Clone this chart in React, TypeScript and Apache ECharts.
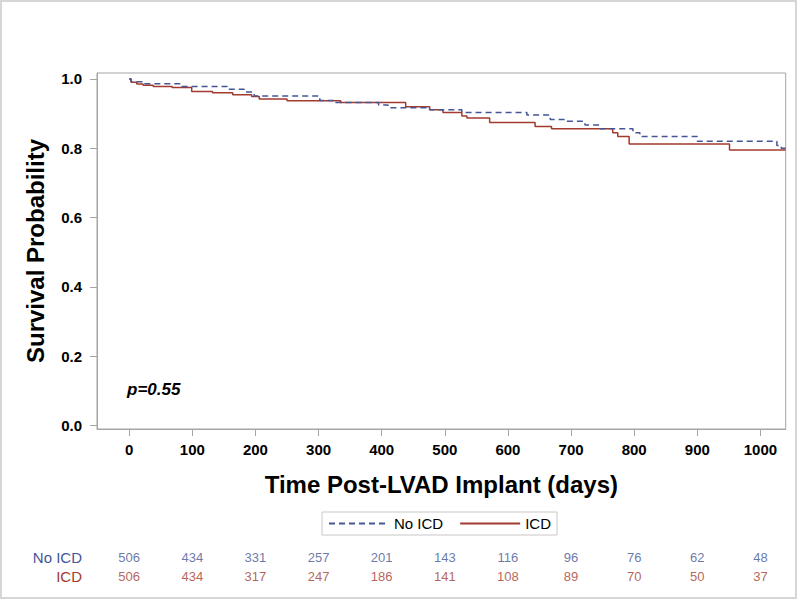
import React, { useEffect, useRef } from "react";
import * as echarts from "echarts";

const noIcdCurve: [number, number][] = [
  [0, 1.0], [3, 0.992], [25, 0.986], [80, 0.978], [155, 0.97], [182, 0.962],
  [198, 0.951], [302, 0.938], [327, 0.932], [395, 0.925], [410, 0.917],
  [476, 0.911], [527, 0.903], [630, 0.896], [667, 0.883], [690, 0.878],
  [722, 0.867], [746, 0.856], [798, 0.845], [809, 0.834], [900, 0.82],
  [1026, 0.808], [1033, 0.8], [1040, 0.798],
];
const icdCurve: [number, number][] = [
  [0, 1.0], [3, 0.99], [12, 0.985], [22, 0.982], [38, 0.978], [68, 0.975],
  [99, 0.964], [132, 0.96], [164, 0.954], [194, 0.949], [206, 0.942],
  [250, 0.937], [335, 0.932], [438, 0.92], [476, 0.911], [497, 0.903],
  [527, 0.893], [535, 0.887], [571, 0.874], [643, 0.863], [669, 0.856],
  [766, 0.845], [774, 0.834], [792, 0.812], [951, 0.795], [1040, 0.795],
];
const riskTimes = [0, 100, 200, 300, 400, 500, 600, 700, 800, 900, 1000];
const riskNoIcd = [506, 434, 331, 257, 201, 143, 116, 96, 76, 62, 48];
const riskIcd = [506, 434, 317, 247, 186, 141, 108, 89, 70, 50, 37];
const xTicks = [0, 100, 200, 300, 400, 500, 600, 700, 800, 900, 1000];
const yTicks = [0, 0.2, 0.4, 0.6, 0.8, 1.0];
const groups = ["ICD", "No ICD"];

const BLUE = "#445694";
const RED = "#a23a2e";
const GRAY = "#a5a5a5";
const FONT = "'Liberation Sans', Arial, sans-serif";

export default function App() {
  const ref = useRef<HTMLDivElement>(null);
  useEffect(() => {
    if (!ref.current) return;
    const chart = echarts.init(ref.current, undefined, { renderer: "svg" });
    chart.setOption({
      animation: false,
      backgroundColor: "#fff",
      textStyle: { fontFamily: FONT },
      legend: {
        data: ["No ICD", "ICD"],
        left: 322,
        top: 512,
        padding: [4, 6, 4, 6],
        itemWidth: 60,
        itemHeight: 14,
        itemGap: 16,
        borderColor: "#c8c8c8",
        borderWidth: 1,
        itemStyle: { opacity: 0 },
        textStyle: { fontSize: 15, color: "#000", fontFamily: FONT },
      },
      graphic: [
        {
          type: "rect",
          shape: { x: 1, y: 1, width: 795, height: 597 },
          style: { fill: "none", stroke: "#d6d6d6", lineWidth: 2 },
          silent: true,
        },
        {
          type: "text",
          left: 127,
          top: 381,
          style: {
            text: "p=0.55",
            font: `italic bold 17px ${FONT}`,
            fill: "#000",
          },
        },
      ],
      grid: [
        {
          left: 97,
          right: 14.3,
          top: 73,
          bottom: 171,
          show: true,
          borderColor: GRAY,
          borderWidth: 1,
        },
        { left: 97, right: 14.3, top: 548, height: 38 },
      ],
      xAxis: [
        {
          type: "value",
          gridIndex: 0,
          min: -51,
          max: 1040,
          name: "Time Post-LVAD Implant (days)",
          nameLocation: "middle",
          nameGap: 43,
          nameTextStyle: { fontSize: 24, fontWeight: "bold", color: "#000", fontFamily: FONT },
          axisLine: { show: true, onZero: false, lineStyle: { color: GRAY } },
          axisTick: { show: true, length: 7, customValues: xTicks, lineStyle: { color: GRAY } },
          axisLabel: {
            customValues: xTicks,
            fontSize: 15,
            fontWeight: "bold",
            color: "#000",
            margin: 13,
            formatter: (v: number) => String(v),
          },
          splitLine: { show: false },
        },
        { type: "value", gridIndex: 1, min: -51, max: 1040, show: false },
      ],
      yAxis: [
        {
          type: "value",
          gridIndex: 0,
          min: -0.0095,
          max: 1.017,
          name: "Survival Probability",
          nameLocation: "middle",
          nameGap: 50,
          nameTextStyle: { fontSize: 24, fontWeight: "bold", color: "#000", fontFamily: FONT },
          axisLine: { show: true, onZero: false, lineStyle: { color: GRAY } },
          axisTick: { show: true, length: 7, customValues: yTicks, lineStyle: { color: GRAY } },
          axisLabel: {
            customValues: yTicks,
            fontSize: 15,
            fontWeight: "bold",
            color: "#000",
            margin: 15,
            formatter: (v: number) => v.toFixed(1),
          },
          splitLine: { show: false },
        },
        {
          type: "category",
          gridIndex: 1,
          data: groups,
          axisLine: { show: false },
          axisTick: { show: false },
          splitLine: { show: false },
          axisLabel: {
            interval: 0,
            fontSize: 15,
            margin: 15,
            color: (v: string) => (v === "ICD" ? RED : BLUE),
          },
        },
      ],
      series: [
        {
          name: "No ICD",
          type: "line",
          step: "end",
          xAxisIndex: 0,
          yAxisIndex: 0,
          symbol: "none",
          data: noIcdCurve,
          itemStyle: { color: BLUE },
          lineStyle: { color: BLUE, width: 1.5, type: [6, 4] },
          z: 3,
        },
        {
          name: "ICD",
          type: "line",
          step: "end",
          xAxisIndex: 0,
          yAxisIndex: 0,
          symbol: "none",
          data: icdCurve,
          itemStyle: { color: RED },
          lineStyle: { color: RED, width: 1.5 },
          z: 2,
        },
        {
          name: "risk-noicd",
          type: "scatter",
          xAxisIndex: 1,
          yAxisIndex: 1,
          symbolSize: 1,
          itemStyle: { color: "rgba(0,0,0,0)" },
          data: riskTimes.map((t, i) => [t, "No ICD", riskNoIcd[i]]),
          label: {
            show: true,
            position: "inside",
            formatter: (p: any) => String(p.value[2]),
            color: BLUE,
            fontSize: 13,
          },
        },
        {
          name: "risk-icd",
          type: "scatter",
          xAxisIndex: 1,
          yAxisIndex: 1,
          symbolSize: 1,
          itemStyle: { color: "rgba(0,0,0,0)" },
          data: riskTimes.map((t, i) => [t, "ICD", riskIcd[i]]),
          label: {
            show: true,
            position: "inside",
            formatter: (p: any) => String(p.value[2]),
            color: RED,
            fontSize: 13,
          },
        },
      ],
    });
    return () => chart.dispose();
  }, []);
  return (
    <div
      ref={ref}
      style={{ position: "absolute", left: 0, top: 0, width: 800, height: 600 }}
    />
  );
}
